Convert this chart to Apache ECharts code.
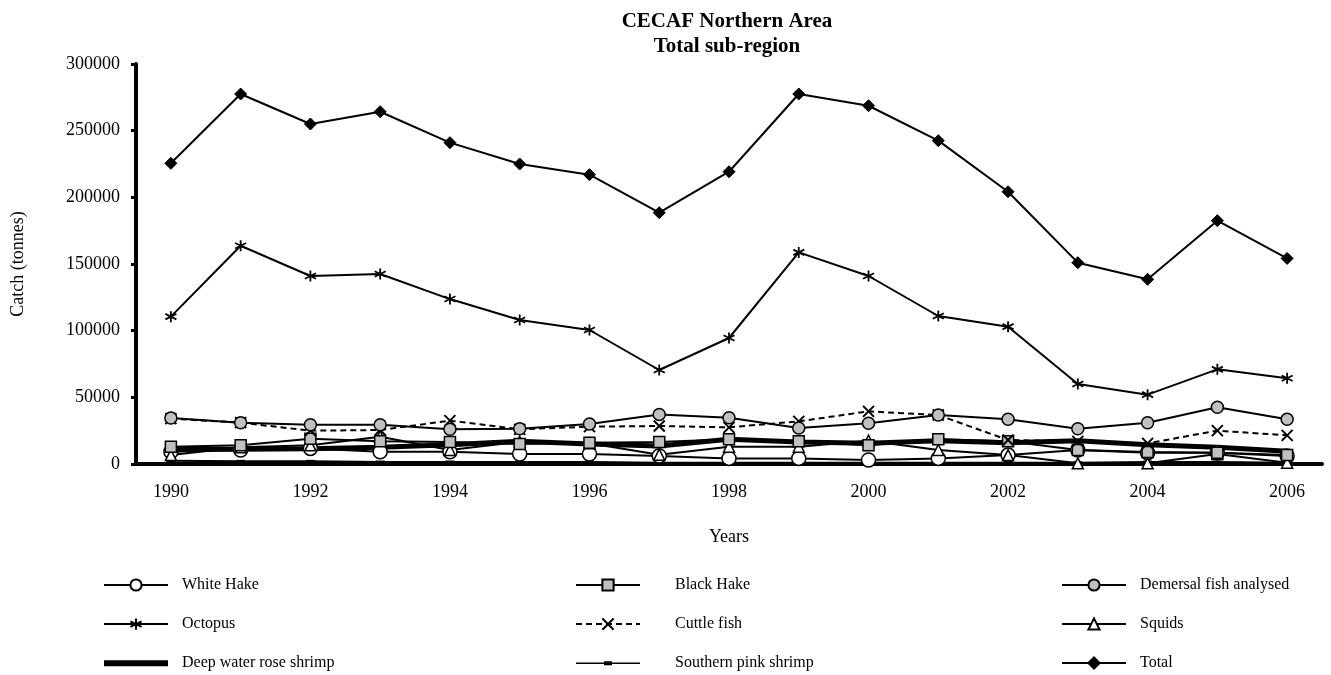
<!DOCTYPE html>
<html>
<head>
<meta charset="utf-8">
<script src="https://cdn.jsdelivr.net/npm/echarts@6/dist/echarts.min.js"></script>
<style>
  html, body { margin: 0; padding: 0; background: #fff; }
  #chart { width: 1331px; height: 675px; }
</style>
</head>
<body>
<div id="chart"></div>
<script>
// years on the x axis
const years = ['1990', '1991', '1992', '1993', '1994', '1995', '1996', '1997', '1998',
    '1999', '2000', '2001', '2002', '2003', '2004', '2005', '2006']

// catches in tonnes
const whiteHake = [9200, 10500, 11700, 9200, 9200, 7500, 7500, 6000, 4200, 4200, 3000, 4200, 6700, 10500, 8500, 8500, 6000]
const blackHake = [13000, 14000, 19000, 17000, 16500, 15000, 16000, 16500, 18500, 17000, 14000, 18500, 17000, 10500, 9000, 8500, 6700]
const demersal = [34500, 31000, 29500, 29500, 26000, 26500, 30000, 37200, 34700, 27000, 30500, 36700, 33500, 26500, 31000, 42500, 33500]
const octopus = [110500, 163700, 141000, 142500, 123700, 108000, 100500, 70500, 94500, 158700, 141000, 111000, 103000, 60000, 52000, 71000, 64300]
const cuttleFish = [34000, 31000, 25000, 25500, 32500, 26000, 28000, 28500, 27500, 32000, 39500, 36700, 18000, 17000, 15500, 25000, 21500]
const squids = [6700, 12500, 14000, 20500, 10500, 16700, 15500, 7000, 13000, 13000, 17500, 10500, 6700, 500, 500, 7500, 1000]
const deepRose = [11000, 11000, 11500, 12500, 14500, 17000, 15000, 13500, 18500, 16500, 15500, 17500, 16000, 17500, 14500, 12500, 9500]
const pinkShrimp = [2500, 2000, 2000, 1500, 1500, 1500, 1500, 1000, 1000, 1000, 1000, 1000, 1000, 1000, 1500, 1500, 1000]
const total = [225500, 277500, 255000, 264200, 241000, 225000, 217000, 188500, 219200, 277500, 268700, 242500, 204200, 151000, 138500, 182500, 154200]

const serif = '"Liberation Serif", "Times New Roman", serif'

// stroke-only marker shapes
const starPath = 'path://M0,-10L0,10M-8.66,-5L8.66,5M-8.66,5L8.66,-5'
const crossPath = 'path://M-10,-10L10,10M-10,10L10,-10'

// legend icons for the two series drawn without a normal marker
const thickIcon = 'path://M0,0L64,0L64,6L0,6Z'
const dashIcon = 'path://M0,2.2L64,2.2L64,3.8L0,3.8ZM28,1L36,1L36,5L28,5Z'

const chart = echarts.init(document.getElementById('chart'))

const line = (name, data, extra) => Object.assign({
    name: name,
    type: 'line',
    data: data,
    symbolSize: 11,
    lineStyle: { color: '#000', width: 2 },
    itemStyle: { color: '#fff', borderColor: '#000', borderWidth: 1.5 },
    emphasis: { disabled: true },
    animation: false
}, extra)

const legendBase = {
    orient: 'vertical',
    top: 577,
    bottom: 0,
    padding: 0,
    itemWidth: 64,
    itemHeight: 14,
    itemGap: 23,
    textStyle: { fontFamily: serif, fontSize: 16, color: '#000', padding: [0, 0, 0, 9] },
    selectedMode: false
}

const option = {
    backgroundColor: '#fff',
    title: {
        text: 'CECAF Northern Area\nTotal sub-region',
        left: 722,
        top: 4,
        textAlign: 'center',
        textStyle: { fontFamily: serif, fontSize: 21, fontWeight: 'bold', color: '#000', lineHeight: 25 }
    },
    legend: [
        Object.assign({}, legendBase, {
            left: 103,
            data: ['White Hake', 'Octopus', { name: 'Deep water rose shrimp', icon: thickIcon }]
        }),
        Object.assign({}, legendBase, {
            left: 575,
            textStyle: Object.assign({}, legendBase.textStyle, { padding: [0, 0, 0, 30] }),
            data: ['Black Hake', 'Cuttle fish', { name: 'Southern pink shrimp', icon: dashIcon }]
        }),
        Object.assign({}, legendBase, {
            left: 1061,
            data: ['Demersal fish analysed', 'Squids', 'Total']
        })
    ],
    grid: {
        left: 136,
        right: 9,
        top: 64,
        bottom: 211
    },
    xAxis: {
        type: 'category',
        data: years,
        boundaryGap: true,
        name: 'Years',
        nameLocation: 'middle',
        nameGap: 64,
        nameTextStyle: { fontFamily: serif, fontSize: 18, color: '#000' },
        axisLine: { lineStyle: { color: '#000', width: 4 } },
        axisTick: { interval: 0, length: 5, lineStyle: { color: '#000', width: 3 } },
        axisLabel: { interval: 1, margin: 19, fontFamily: serif, fontSize: 18, color: '#000' },
        splitLine: { show: false }
    },
    yAxis: {
        type: 'value',
        min: 0,
        max: 300000,
        interval: 50000,
        name: 'Catch (tonnes)',
        nameLocation: 'middle',
        nameRotate: 90,
        nameGap: 109,
        nameTextStyle: { fontFamily: serif, fontSize: 18, color: '#000' },
        axisLine: { show: true, lineStyle: { color: '#000', width: 4 } },
        axisTick: { show: true, length: 5, lineStyle: { color: '#000', width: 3 } },
        axisLabel: { margin: 16, fontFamily: serif, fontSize: 18, color: '#000', formatter: v => String(v) },
        splitLine: { show: false }
    },
    series: [
        line('Deep water rose shrimp', deepRose, {
            symbol: 'none',
            lineStyle: { color: '#000', width: 5, cap: 'round' },
            itemStyle: { color: '#000' }
        }),
        line('Southern pink shrimp', pinkShrimp, {
            symbol: 'rect',
            symbolSize: [9, 3],
            itemStyle: { color: '#000', borderColor: '#000', borderWidth: 0 }
        }),
        line('White Hake', whiteHake, { symbol: 'circle', symbolSize: 14 }),
        line('Squids', squids, { symbol: 'triangle', symbolSize: 11 }),
        line('Black Hake', blackHake, {
            symbol: 'rect',
            symbolSize: 11,
            itemStyle: { color: '#c0c0c0', borderColor: '#000', borderWidth: 1.5 }
        }),
        line('Cuttle fish', cuttleFish, {
            symbol: crossPath,
            symbolSize: 11,
            lineStyle: { color: '#000', width: 2, type: [6, 4] },
            itemStyle: { color: 'none', borderColor: '#000', borderWidth: 2 }
        }),
        line('Demersal fish analysed', demersal, {
            symbol: 'circle',
            symbolSize: 12,
            itemStyle: { color: '#c0c0c0', borderColor: '#000', borderWidth: 1.5 }
        }),
        line('Octopus', octopus, {
            symbol: starPath,
            symbolSize: 11,
            itemStyle: { color: 'none', borderColor: '#000', borderWidth: 1.8 }
        }),
        line('Total', total, {
            symbol: 'diamond',
            symbolSize: 12,
            itemStyle: { color: '#000', borderColor: '#000', borderWidth: 1 }
        })
    ]
}

chart.setOption(option)
</script>
</body>
</html>
